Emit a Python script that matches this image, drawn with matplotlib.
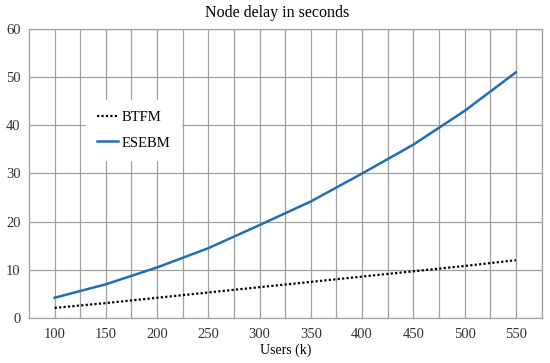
import matplotlib
matplotlib.use("Agg")
import matplotlib.pyplot as plt

users = [100, 150, 200, 250, 300, 350, 400, 450, 500, 550]
btfm = [2.1, 3.1, 4.2, 5.3, 6.4, 7.5, 8.6, 9.7, 10.8, 12.0]
esebm = [4.2, 7.0, 10.5, 14.5, 19.3, 24.2, 30.0, 36.0, 43.0, 51.0]
xticks = [100, 150, 200, 250, 300, 350, 400, 450, 500, 550]
yticks = [0, 10, 20, 30, 40, 50, 60]

plt.rcParams['font.family'] = ['Liberation Serif', 'DejaVu Serif']

fig = plt.figure(figsize=(5.5, 3.63), dpi=100)
ax = fig.add_axes([29/550, 1 - 318/363, (541.5 - 29)/550, (318 - 29)/363])

ax.plot(users, btfm, color='black', linestyle=(0, (1, 1)), linewidth=1.6, label='BTFM')
ax.plot(users, esebm, color='#1f6fb5', linewidth=1.8, label='ESEBM')

ax.set_xlim(75, 575)
ax.set_ylim(0, 60)
ax.set_xticks(xticks)
ax.set_xticks(list(range(125, 576, 50)), minor=True)
ax.set_yticks(yticks)
ax.grid(True, which='both', color='#a0a0a0', linewidth=0.9)
ax.set_axisbelow(True)
for s in ax.spines.values():
    s.set_color('#a0a0a0')
    s.set_linewidth(0.9)
ax.tick_params(which='both', length=0, labelsize=10.5, colors='#404040')
ax.tick_params(axis='x', pad=7)
ax.tick_params(axis='y', pad=6)
for lab in ax.get_xticklabels() + ax.get_yticklabels():
    lab.set_color('#333333')

fig.text(0.503, 1 - 13/363, 'Node delay in seconds', fontsize=11.5, ha='center', va='center')
ax.set_xlabel('Users (k)', fontsize=10, labelpad=2)

leg = ax.legend(loc='upper left', bbox_to_anchor=(0.112, 0.755), frameon=True,
                fontsize=10.5, handlelength=1.4, handletextpad=0.25, labelspacing=0.85,
                borderpad=0.75, borderaxespad=0, fancybox=False)
leg.get_frame().set_edgecolor('white')
leg.get_frame().set_facecolor('white')
leg.get_frame().set_alpha(1)

fig.savefig('out.png', dpi=100)
